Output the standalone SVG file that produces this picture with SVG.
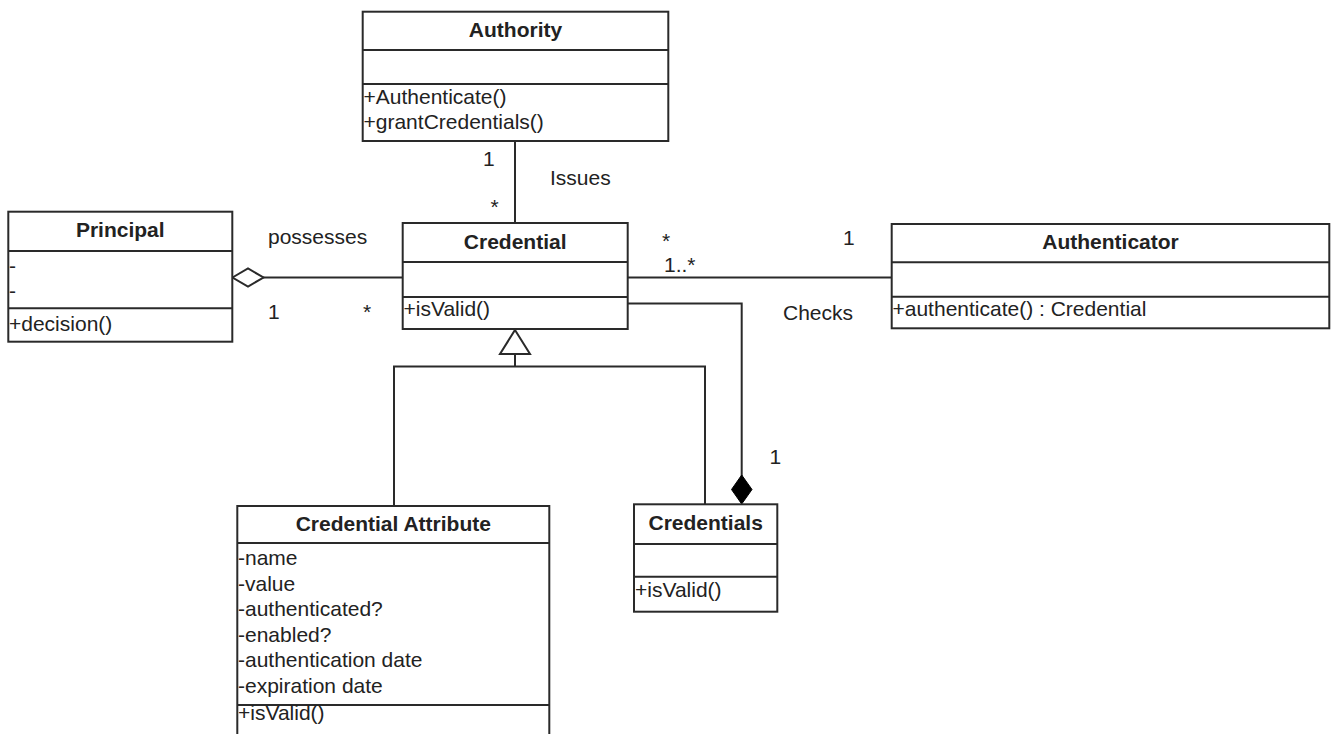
<svg xmlns="http://www.w3.org/2000/svg" width="1331" height="734" viewBox="0 0 1331 734">
<style>
.box{fill:#fff;stroke:#2a2a2a;stroke-width:2}
.ln{fill:none;stroke:#2a2a2a;stroke-width:2}
text{font-family:"Liberation Sans",Arial,sans-serif;font-size:21px;fill:#222}
.t{font-weight:bold;text-anchor:middle}
</style>
<rect width="1331" height="734" fill="#fff"/>
<g id="connectors">
<line class="ln" x1="515" y1="141" x2="515" y2="223"/>
<line class="ln" x1="263" y1="277.5" x2="403" y2="277.5"/>
<polygon points="232.5,277.5 248,268.5 263.5,277.5 248,286.5" fill="#fff" stroke="#2a2a2a" stroke-width="2"/>
<line class="ln" x1="628" y1="277.5" x2="892" y2="277.5"/>
<polyline class="ln" points="628,303.5 741.7,303.5 741.7,476"/>
<polygon points="741.7,475 752,489.5 741.7,504 731.5,489.5" fill="#000" stroke="#000" stroke-width="1"/>
<polyline class="ln" points="394,506 394,366.5 705,366.5 705,504"/>
<line class="ln" x1="515" y1="354" x2="515" y2="366.5"/>
<polygon points="515,330 530,354 500,354" fill="#fff" stroke="#2a2a2a" stroke-width="2"/>
<text x="483" y="166">1</text>
<text x="490.5" y="214">*</text>
<text x="550" y="185">Issues</text>
<text x="268" y="244">possesses</text>
<text x="268" y="319">1</text>
<text x="363" y="319">*</text>
<text x="662" y="247.5">*</text>
<text x="843" y="245">1</text>
<text x="664" y="271.5">1..*</text>
<text x="783" y="319.5">Checks</text>
<text x="769.5" y="464">1</text>
</g>
<g id="authority">
<rect class="box" x="362.7" y="11.7" width="305.6" height="129.3"/>
<line class="ln" x1="362.7" y1="50" x2="668.3" y2="50"/>
<line class="ln" x1="362.7" y1="84" x2="668.3" y2="84"/>
<text class="t" x="515.5" y="37">Authority</text>
<text x="363.5" y="104">+Authenticate()</text>
<text x="363.5" y="129">+grantCredentials()</text>
</g>
<g id="principal">
<rect class="box" x="8.3" y="211.7" width="224" height="130"/>
<line class="ln" x1="8.3" y1="251" x2="232.3" y2="251"/>
<line class="ln" x1="8.3" y1="308.3" x2="232.3" y2="308.3"/>
<text class="t" x="120.3" y="236.5">Principal</text>
<text x="9" y="272.5">-</text>
<text x="9" y="297.5">-</text>
<text x="9" y="331">+decision()</text>
</g>
<g id="credential">
<rect class="box" x="402.7" y="223" width="225" height="106"/>
<line class="ln" x1="402.7" y1="262" x2="627.7" y2="262"/>
<line class="ln" x1="402.7" y1="297" x2="627.7" y2="297"/>
<text class="t" x="515.2" y="248.5">Credential</text>
<text x="403.5" y="316">+isValid()</text>
</g>
<g id="authenticator">
<rect class="box" x="891.7" y="224" width="437.6" height="104.3"/>
<line class="ln" x1="891.7" y1="262.3" x2="1329.3" y2="262.3"/>
<line class="ln" x1="891.7" y1="296.7" x2="1329.3" y2="296.7"/>
<text class="t" x="1110.5" y="248.5">Authenticator</text>
<text x="892.5" y="316">+authenticate() : Credential</text>
</g>
<g id="credential-attribute">
<rect class="box" x="237.3" y="506" width="312" height="240"/>
<line class="ln" x1="237.3" y1="543" x2="549.3" y2="543"/>
<line class="ln" x1="237.3" y1="705" x2="549.3" y2="705"/>
<text class="t" x="393.3" y="530.5">Credential Attribute</text>
<text x="238" y="565">-name</text>
<text x="238" y="590.6">-value</text>
<text x="238" y="616.2">-authenticated?</text>
<text x="238" y="641.8">-enabled?</text>
<text x="238" y="667.4">-authentication date</text>
<text x="238" y="693">-expiration date</text>
<text x="238" y="720">+isValid()</text>
</g>
<g id="credentials">
<rect class="box" x="634" y="504.3" width="143.3" height="107.4"/>
<line class="ln" x1="634" y1="544" x2="777.3" y2="544"/>
<line class="ln" x1="634" y1="576.7" x2="777.3" y2="576.7"/>
<text class="t" x="705.7" y="529.5">Credentials</text>
<text x="635" y="596.7">+isValid()</text>
</g>
</svg>
